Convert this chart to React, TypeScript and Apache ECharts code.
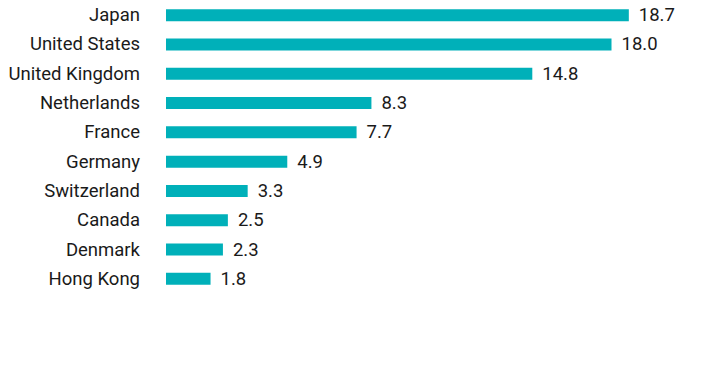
import React, { useEffect, useRef } from "react";
import * as echarts from "echarts";

const categories = [
  "Japan",
  "United States",
  "United Kingdom",
  "Netherlands",
  "France",
  "Germany",
  "Switzerland",
  "Canada",
  "Denmark",
  "Hong Kong",
];
const values = [18.7, 18.0, 14.8, 8.3, 7.7, 4.9, 3.3, 2.5, 2.3, 1.8];

export default function App() {
  const ref = useRef<HTMLDivElement>(null);
  useEffect(() => {
    if (!ref.current) return;
    const chart = echarts.init(ref.current, undefined, { renderer: "svg" });
    chart.setOption({
      animation: false,
      grid: { left: 166, right: 47, top: 0.5, bottom: 78.5, containLabel: false },
      xAxis: {
        type: "value",
        min: 0,
        max: 20,
        show: false,
      },
      yAxis: {
        type: "category",
        data: categories.slice().reverse(),
        axisLine: { show: false },
        axisTick: { show: false },
        splitLine: { show: false },
        axisLabel: {
          margin: 26,
          fontFamily: "Roboto",
          fontSize: 18.5,
          color: "#1a1a1a",
        },
      },
      series: [
        {
          type: "bar",
          data: values.slice().reverse(),
          barWidth: 12,
          itemStyle: { color: "#00B0B9" },
          label: {
            show: true,
            position: "right",
            distance: 10,
            fontFamily: "Roboto",
            fontSize: 18.5,
            color: "#1a1a1a",
            formatter: (p: any) => Number(p.value).toFixed(1),
          },
        },
      ],
    });
    return () => chart.dispose();
  }, []);
  return (
    <div
      ref={ref}
      style={{ position: "fixed", left: 0, top: 0, width: 708, height: 372, background: "#fff" }}
    />
  );
}
